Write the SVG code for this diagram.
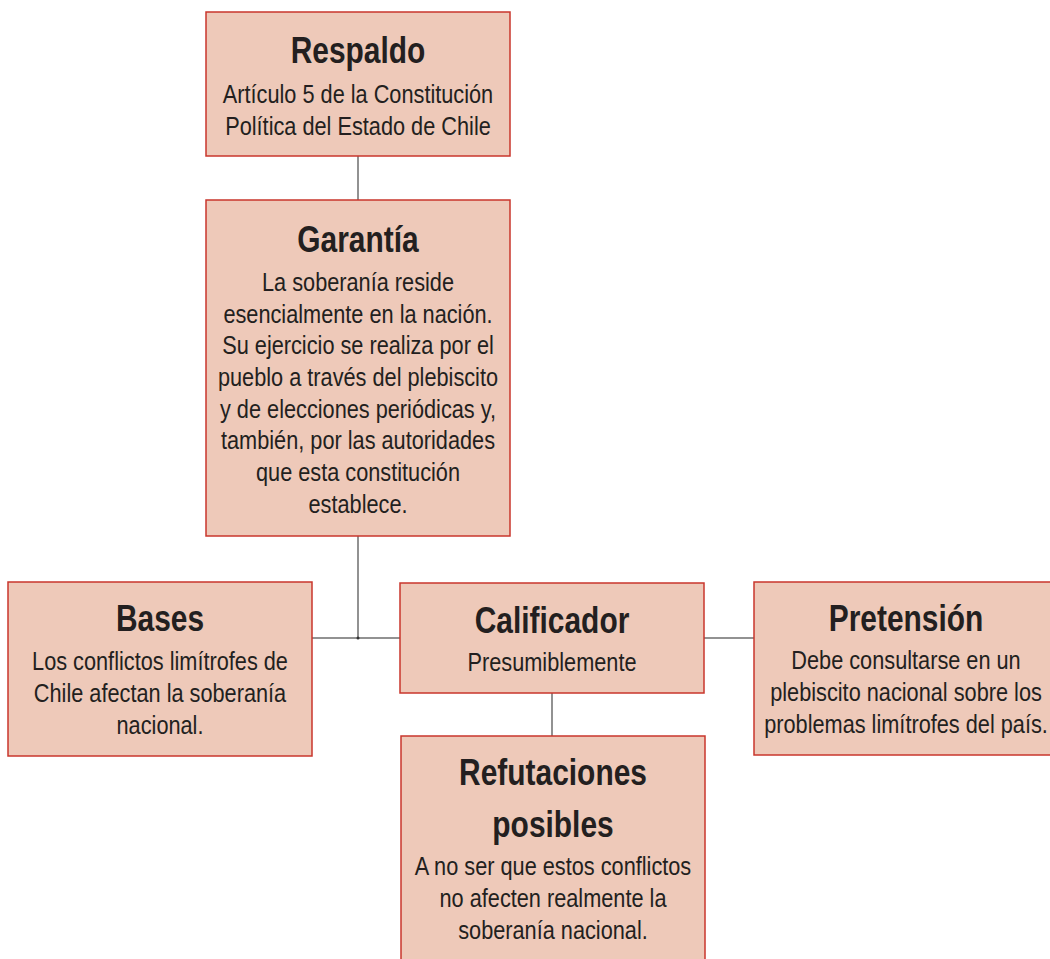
<svg xmlns="http://www.w3.org/2000/svg" width="1050" height="959" viewBox="0 0 1050 959">
<style>
.box{fill:#EEC9B9;stroke:#C9362C;stroke-width:1.5}
.t{font-family:"Liberation Sans",Arial,sans-serif;font-weight:bold;font-size:36.5px;fill:#231F20;text-anchor:middle}
.b{font-family:"Liberation Sans",Arial,sans-serif;font-size:26.5px;fill:#231F20;text-anchor:middle}
.c{stroke:#6E6E6E;stroke-width:1.5;fill:none}
</style>
<rect width="1050" height="959" fill="#ffffff"/>
<g id="connectors">
<line class="c" x1="358" y1="156" x2="358" y2="200"/>
<line class="c" x1="358" y1="536" x2="358" y2="638"/>
<line class="c" x1="312" y1="638" x2="400" y2="638"/>
<line class="c" x1="704" y1="638" x2="754" y2="638"/>
<line class="c" x1="552" y1="693" x2="552" y2="736"/>
<circle cx="358" cy="638" r="1.5" fill="#333"/>
</g>
<g id="respaldo">
<rect class="box" x="206" y="12" width="304" height="144"/>
<g transform="translate(358,0) scale(0.82,1)">
<text class="t" x="0" y="63">Respaldo</text>
<text class="b" x="0" y="103">Artículo 5 de la Constitución</text>
<text class="b" x="0" y="135">Política del Estado de Chile</text>
</g>
</g>
<g id="garantia">
<rect class="box" x="206" y="200" width="304" height="336"/>
<g transform="translate(358,0) scale(0.82,1)">
<text class="t" x="0" y="252">Garantía</text>
<text class="b" x="0" y="291">La soberanía reside</text>
<text class="b" x="0" y="322.7">esencialmente en la nación.</text>
<text class="b" x="0" y="354.4">Su ejercicio se realiza por el</text>
<text class="b" x="0" y="386.1">pueblo a través del plebiscito</text>
<text class="b" x="0" y="417.8">y de elecciones periódicas y,</text>
<text class="b" x="0" y="449.5">también, por las autoridades</text>
<text class="b" x="0" y="481.2">que esta constitución</text>
<text class="b" x="0" y="513">establece.</text>
</g>
</g>
<g id="bases">
<rect class="box" x="8" y="582" width="304" height="174"/>
<g transform="translate(160,0) scale(0.82,1)">
<text class="t" x="0" y="631">Bases</text>
<text class="b" x="0" y="670">Los conflictos limítrofes de</text>
<text class="b" x="0" y="702">Chile afectan la soberanía</text>
<text class="b" x="0" y="734">nacional.</text>
</g>
</g>
<g id="calificador">
<rect class="box" x="400" y="583" width="304" height="110"/>
<g transform="translate(552,0) scale(0.82,1)">
<text class="t" x="0" y="633">Calificador</text>
<text class="b" x="0" y="671">Presumiblemente</text>
</g>
</g>
<g id="pretension">
<rect class="box" x="754" y="582" width="304" height="173"/>
<g transform="translate(906,0) scale(0.82,1)">
<text class="t" x="0" y="631">Pretensión</text>
<text class="b" x="0" y="669">Debe consultarse en un</text>
<text class="b" x="0" y="701">plebiscito nacional sobre los</text>
<text class="b" x="0" y="733">problemas limítrofes del país.</text>
</g>
</g>
<g id="refutaciones">
<rect class="box" x="401" y="736" width="304" height="240"/>
<g transform="translate(553,0) scale(0.82,1)">
<text class="t" x="0" y="785">Refutaciones</text>
<text class="t" x="0" y="837">posibles</text>
<text class="b" x="0" y="875">A no ser que estos conflictos</text>
<text class="b" x="0" y="907">no afecten realmente la</text>
<text class="b" x="0" y="939">soberanía nacional.</text>
</g>
</g>
</svg>
